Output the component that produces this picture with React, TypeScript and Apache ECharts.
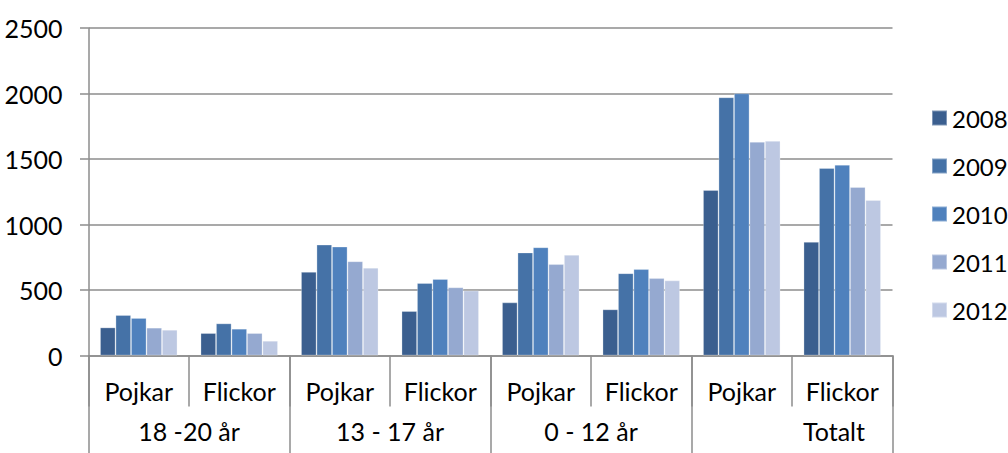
import React, { useEffect, useRef } from "react";
import * as echarts from "echarts";

const subCategories = ["Pojkar", "Flickor", "Pojkar", "Flickor", "Pojkar", "Flickor", "Pojkar", "Flickor"];
const groups = ["18 -20 år", "13 - 17 år", "0 - 12 år", "Totalt"];
const years = ["2008", "2009", "2010", "2011", "2012"];
const colors = ["#3B5F8F", "#4572A7", "#4F81BD", "#95A9D0", "#BDC8E2"];

const v2008 = [214, 171, 638, 339, 405, 352, 1263, 867];
const v2009 = [309, 245, 846, 553, 786, 628, 1971, 1431];
const v2010 = [286, 204, 831, 584, 826, 659, 2001, 1456];
const v2011 = [212, 171, 719, 520, 697, 590, 1631, 1286];
const v2012 = [196, 112, 670, 495, 768, 573, 1638, 1187];
const seriesValues = [v2008, v2009, v2010, v2011, v2012];

const yMin = 0;
const yMax = 2500;
const yInterval = 500;

const FONT = "Lato";
const FS = 25;
const AXIS = "#8C8C8C";

export default function App() {
  const ref = useRef<HTMLDivElement>(null);
  useEffect(() => {
    if (!ref.current) return;
    const chart = echarts.init(ref.current, undefined, { renderer: "svg" });
    chart.setOption({
      animation: false,
      backgroundColor: "#ffffff",
      textStyle: { fontFamily: FONT, color: "#000" },
      grid: { left: 88.5, top: 28, right: 115.5, bottom: 97.5, containLabel: false },
      legend: {
        orient: "vertical",
        left: 931,
        top: 106,
        padding: 0,
        icon: "rect",
        itemWidth: 15,
        itemHeight: 15,
        itemGap: 24,
        textStyle: { fontFamily: FONT, fontSize: 24, color: "#000", lineHeight: 24 },
        data: years,
      },
      xAxis: [
        {
          type: "category",
          data: subCategories,
          position: "bottom",
          axisLine: { show: true, lineStyle: { color: AXIS, width: 1.5 } },
          axisTick: { show: true, length: 51, interval: 0, lineStyle: { color: AXIS, width: 1.5 } },
          axisLabel: { interval: 0, margin: 23, fontFamily: FONT, fontSize: FS, color: "#000", lineHeight: 25 },
          splitLine: { show: false },
        },
        {
          type: "category",
          data: groups,
          position: "bottom",
          axisLine: { show: false },
          axisTick: { show: true, length: 110, interval: 0, lineStyle: { color: AXIS, width: 1.5 } },
          axisLabel: {
            interval: 0,
            margin: 63,
            fontFamily: FONT,
            fontSize: FS,
            color: "#000",
            lineHeight: 25,
            formatter: (val: string) => (val === "Totalt" ? "{t|" + val + "}" : val),
            rich: { t: { fontFamily: FONT, fontSize: FS, color: "#000", lineHeight: 25, padding: [0, 0, 0, 84] } },
          },
          splitLine: { show: false },
        },
      ],
      yAxis: {
        type: "value",
        min: yMin,
        max: yMax,
        interval: yInterval,
        axisLine: { show: true, lineStyle: { color: AXIS, width: 1.5 } },
        axisTick: { show: true, length: 8.5, lineStyle: { color: AXIS, width: 1.5 } },
        axisLabel: { margin: 26, fontFamily: FONT, fontSize: FS, color: "#000", formatter: (v: number) => String(v) },
        splitLine: { show: true, lineStyle: { color: AXIS, width: 1.5 } },
      },
      series: years.map((y, i) => ({
        name: y,
        type: "bar",
        xAxisIndex: 0,
        data: seriesValues[i],
        barGap: "0%",
        barCategoryGap: "23%",
        itemStyle: { color: colors[i], borderColor: "rgba(255,255,255,0.35)", borderWidth: 0.8 },
      })),
    });
    return () => chart.dispose();
  }, []);
  return <div ref={ref} style={{ position: "fixed", left: 0, top: 0, width: 1008, height: 453 }} />;
}
